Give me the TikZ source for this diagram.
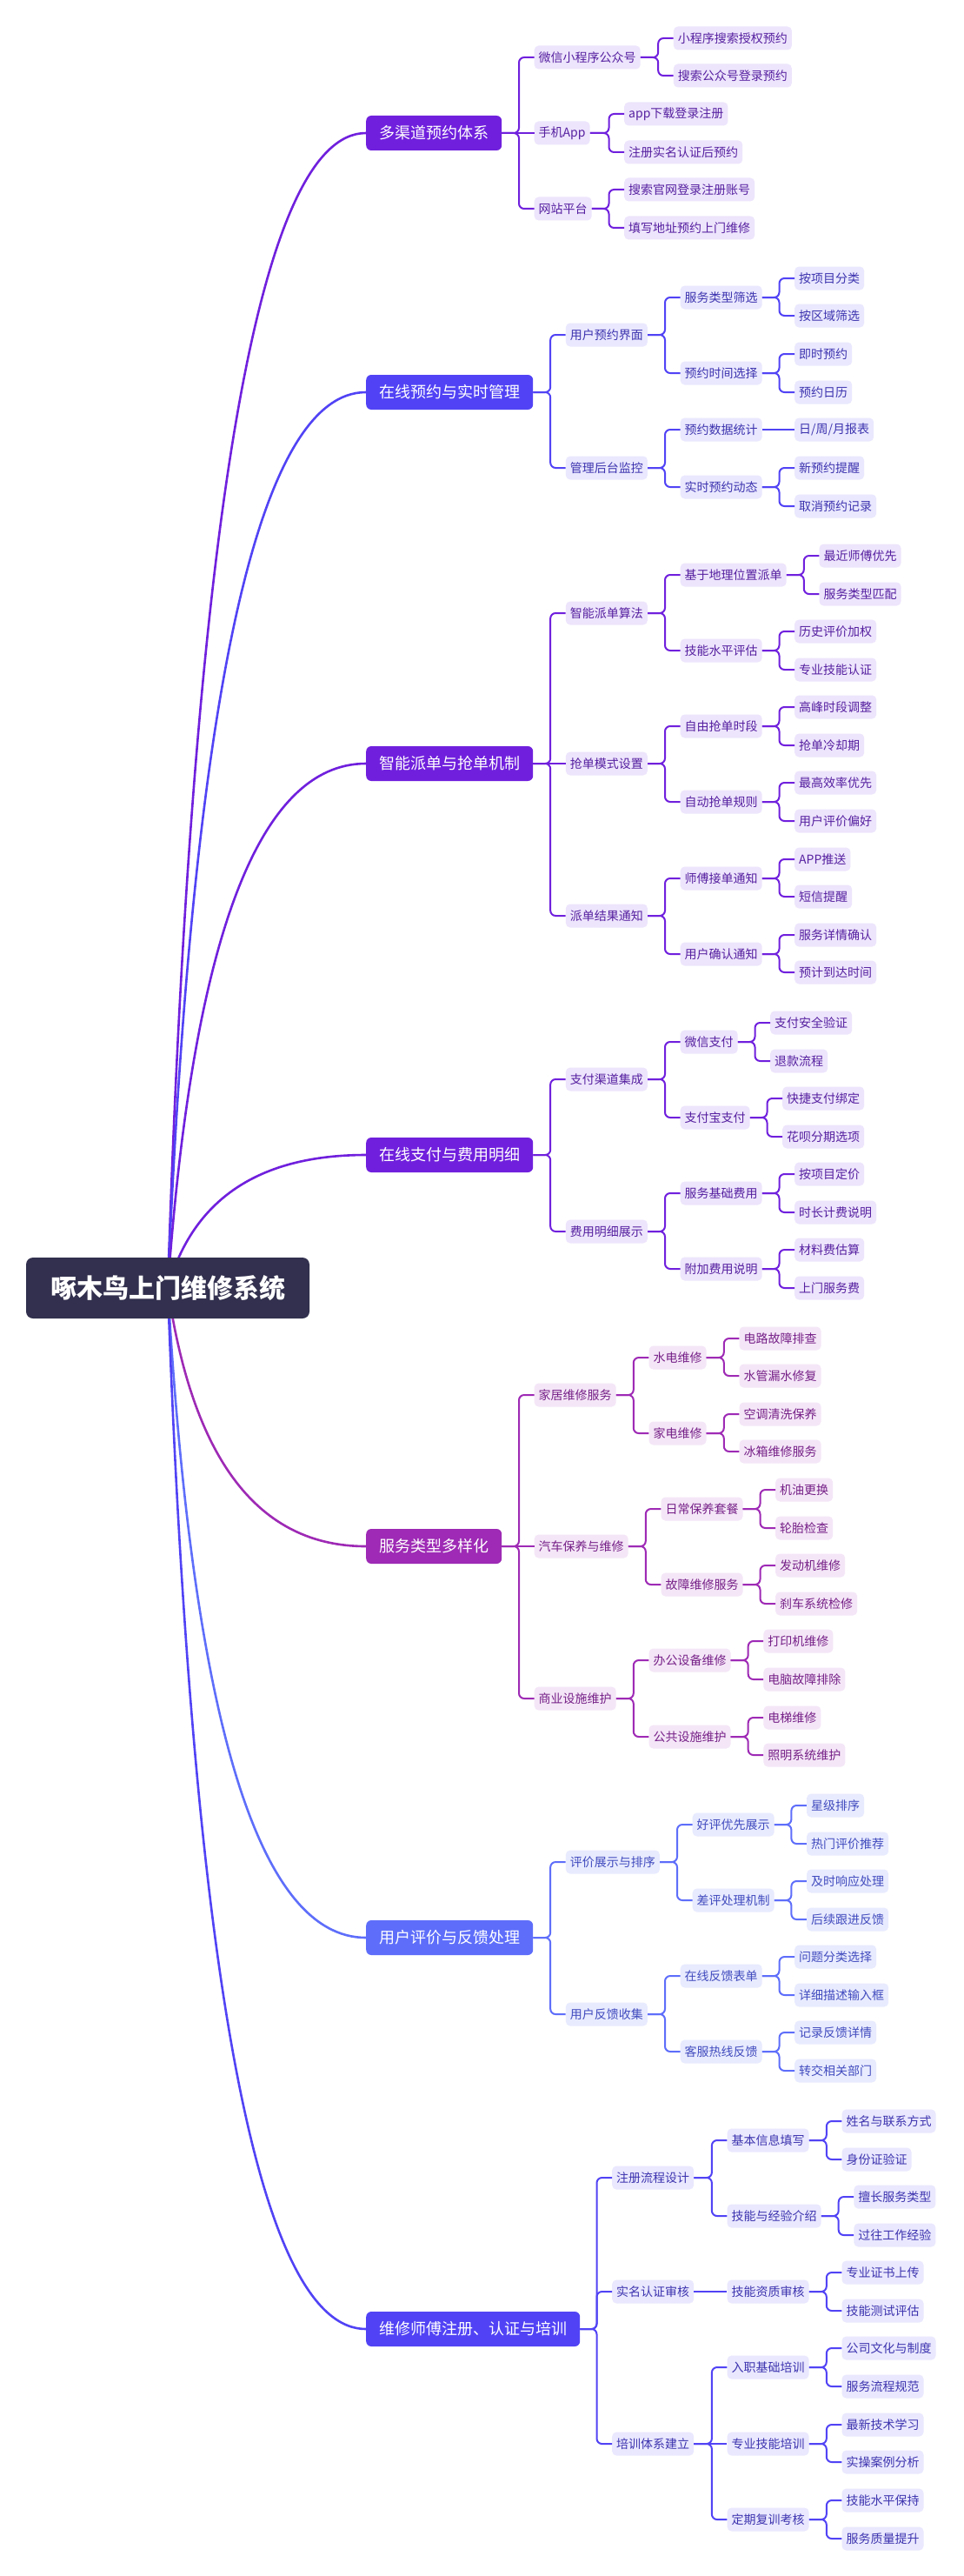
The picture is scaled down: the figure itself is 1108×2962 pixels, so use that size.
\documentclass[tikz,border=0pt]{standalone}
\usepackage{fontspec}
\setmainfont{Noto Sans CJK SC}
\usetikzlibrary{calc,backgrounds}

\definecolor{cRoot}{RGB}{50,48,78}
\definecolor{cViolet}{RGB}{112,32,221}
\definecolor{cVioletL}{RGB}{237,229,252}
\definecolor{cVioletD}{RGB}{86,32,160}
\definecolor{cIndigo}{RGB}{81,67,245}
\definecolor{cIndigoL}{RGB}{233,232,254}
\definecolor{cIndigoD}{RGB}{62,52,175}
\definecolor{cOrchid}{RGB}{158,42,181}
\definecolor{cOrchidL}{RGB}{244,230,247}
\definecolor{cOrchidD}{RGB}{118,32,135}
\definecolor{cSky}{RGB}{94,110,250}
\definecolor{cSkyL}{RGB}{232,235,254}
\definecolor{cSkyD}{RGB}{66,76,190}

\begin{document}
\begin{tikzpicture}[x=1pt, y=-1pt,
  rootbox/.style={rounded corners=8pt, fill=cRoot, text=white, minimum width=326pt, minimum height=70pt,
                  inner sep=0pt, font=\bfseries\fontsize{30}{36}\selectfont},
  hub/.style={anchor=west, rounded corners=6pt, text=white, minimum height=40pt, inner xsep=15pt, inner ysep=0pt,
              font=\fontsize{18}{22}\selectfont},
  leaf/.style={anchor=west, rounded corners=5pt, minimum height=27pt, inner xsep=5pt, inner ysep=0pt,
               font=\fontsize{14}{16}\selectfont},
  link/.style={line width=2pt, rounded corners=6pt},
  tint/.style={hub/.append style={fill=#1}, leaf/.append style={fill=#1L, text=#1D}, link/.append style={draw=#1}}]

\useasboundingbox (0,0) rectangle (1108,2962);

% root
\node[rootbox] (root) at (193,1481) {啄木鸟上门维修系统};

% branch 1: channels
\begin{scope}[tint=cViolet]
\node[hub] (b1) at (421,153) {多渠道预约体系};
\node[leaf] (b1a) at (614.5,66) {微信小程序公众号};
\node[leaf] (b1a1) at (774.7,44) {小程序搜索授权预约};
\node[leaf] (b1a2) at (774.7,87) {搜索公众号登录预约};
\node[leaf] (b1b) at (614.5,153) {手机App};
\node[leaf] (b1b1) at (718,131) {app下载登录注册};
\node[leaf] (b1b2) at (718,175) {注册实名认证后预约};
\node[leaf] (b1c) at (614.5,240) {网站平台};
\node[leaf] (b1c1) at (718,218) {搜索官网登录注册账号};
\node[leaf] (b1c2) at (718,262) {填写地址预约上门维修};
\foreach \p/\c in {b1/b1a, b1/b1c, b1a/b1a1, b1a/b1a2, b1b/b1b1, b1b/b1b2, b1c/b1c1, b1c/b1c2}
  \draw[link] (\p.east) -| ($(\c.west)+(-17.5,0)$) -- (\c.west);
\draw[link] (b1) -- (b1b);
\end{scope}

% branch 2: booking
\begin{scope}[tint=cIndigo]
\node[hub] (b2) at (421,451) {在线预约与实时管理};
\node[leaf] (b2a) at (650.7,385) {用户预约界面};
\node[leaf] (b2a1) at (782.5,342) {服务类型筛选};
\node[leaf] (b2a11) at (914,320) {按项目分类};
\node[leaf] (b2a12) at (914,363) {按区域筛选};
\node[leaf] (b2a2) at (782.5,429) {预约时间选择};
\node[leaf] (b2a21) at (914,407) {即时预约};
\node[leaf] (b2a22) at (914,451) {预约日历};
\node[leaf] (b2b) at (650.7,538) {管理后台监控};
\node[leaf] (b2b1) at (782.5,494) {预约数据统计};
\node[leaf] (b2b11) at (914,494) {日/周/月报表};
\node[leaf] (b2b2) at (782.5,560) {实时预约动态};
\node[leaf] (b2b21) at (914,538) {新预约提醒};
\node[leaf] (b2b22) at (914,582) {取消预约记录};
\foreach \p/\c in {b2/b2a, b2/b2b, b2a/b2a1, b2a/b2a2, b2a1/b2a11, b2a1/b2a12, b2a2/b2a21, b2a2/b2a22,
                   b2b/b2b1, b2b/b2b2, b2b2/b2b21, b2b2/b2b22}
  \draw[link] (\p.east) -| ($(\c.west)+(-17.5,0)$) -- (\c.west);
\draw[link] (b2b1) -- (b2b11);
\end{scope}

% branch 3: dispatch
\begin{scope}[tint=cViolet]
\node[hub] (b3) at (421,878) {智能派单与抢单机制};
\node[leaf] (b3a) at (650.7,705) {智能派单算法};
\node[leaf] (b3a1) at (782.5,661) {基于地理位置派单};
\node[leaf] (b3a11) at (942.3,639) {最近师傅优先};
\node[leaf] (b3a12) at (942.3,683) {服务类型匹配};
\node[leaf] (b3a2) at (782.5,748) {技能水平评估};
\node[leaf] (b3a21) at (914,726) {历史评价加权};
\node[leaf] (b3a22) at (914,770) {专业技能认证};
\node[leaf] (b3b) at (650.7,878) {抢单模式设置};
\node[leaf] (b3b1) at (782.5,835) {自由抢单时段};
\node[leaf] (b3b11) at (914,813) {高峰时段调整};
\node[leaf] (b3b12) at (914,857) {抢单冷却期};
\node[leaf] (b3b2) at (782.5,922) {自动抢单规则};
\node[leaf] (b3b21) at (914,900) {最高效率优先};
\node[leaf] (b3b22) at (914,944) {用户评价偏好};
\node[leaf] (b3c) at (650.7,1053) {派单结果通知};
\node[leaf] (b3c1) at (782.5,1010) {师傅接单通知};
\node[leaf] (b3c11) at (914,988) {APP推送};
\node[leaf] (b3c12) at (914,1031) {短信提醒};
\node[leaf] (b3c2) at (782.5,1097) {用户确认通知};
\node[leaf] (b3c21) at (914,1075) {服务详情确认};
\node[leaf] (b3c22) at (914,1118) {预计到达时间};
\foreach \p/\c in {b3/b3a, b3/b3c, b3a/b3a1, b3a/b3a2, b3b/b3b1, b3b/b3b2, b3c/b3c1, b3c/b3c2,
                   b3a1/b3a11, b3a1/b3a12, b3a2/b3a21, b3a2/b3a22, b3b1/b3b11, b3b1/b3b12,
                   b3b2/b3b21, b3b2/b3b22, b3c1/b3c11, b3c1/b3c12, b3c2/b3c21, b3c2/b3c22}
  \draw[link] (\p.east) -| ($(\c.west)+(-17.5,0)$) -- (\c.west);
\draw[link] (b3) -- (b3b);
\end{scope}

% branch 4: payment
\begin{scope}[tint=cViolet]
\node[hub] (b4) at (421,1328) {在线支付与费用明细};
\node[leaf] (b4a) at (650.7,1241) {支付渠道集成};
\node[leaf] (b4a1) at (782.5,1198) {微信支付};
\node[leaf] (b4a11) at (886,1176) {支付安全验证};
\node[leaf] (b4a12) at (886,1220) {退款流程};
\node[leaf] (b4a2) at (782.5,1285) {支付宝支付};
\node[leaf] (b4a21) at (900,1263) {快捷支付绑定};
\node[leaf] (b4a22) at (900,1307) {花呗分期选项};
\node[leaf] (b4b) at (650.7,1416) {费用明细展示};
\node[leaf] (b4b1) at (782.5,1372) {服务基础费用};
\node[leaf] (b4b11) at (914,1350) {按项目定价};
\node[leaf] (b4b12) at (914,1394) {时长计费说明};
\node[leaf] (b4b2) at (782.5,1459) {附加费用说明};
\node[leaf] (b4b21) at (914,1437) {材料费估算};
\node[leaf] (b4b22) at (914,1481) {上门服务费};
\foreach \p/\c in {b4/b4a, b4/b4b, b4a/b4a1, b4a/b4a2, b4b/b4b1, b4b/b4b2,
                   b4a1/b4a11, b4a1/b4a12, b4a2/b4a21, b4a2/b4a22, b4b1/b4b11, b4b1/b4b12, b4b2/b4b21, b4b2/b4b22}
  \draw[link] (\p.east) -| ($(\c.west)+(-17.5,0)$) -- (\c.west);
\end{scope}

% branch 5: service types
\begin{scope}[tint=cOrchid]
\node[hub] (b5) at (421,1778) {服务类型多样化};
\node[leaf] (b5a) at (614.5,1604) {家居维修服务};
\node[leaf] (b5a1) at (746.3,1561) {水电维修};
\node[leaf] (b5a11) at (850.3,1539) {电路故障排查};
\node[leaf] (b5a12) at (850.3,1582) {水管漏水修复};
\node[leaf] (b5a2) at (746.3,1648) {家电维修};
\node[leaf] (b5a21) at (850.3,1626) {空调清洗保养};
\node[leaf] (b5a22) at (850.3,1669) {冰箱维修服务};
\node[leaf] (b5b) at (614.5,1778) {汽车保养与维修};
\node[leaf] (b5b1) at (760.3,1735) {日常保养套餐};
\node[leaf] (b5b11) at (892,1713) {机油更换};
\node[leaf] (b5b12) at (892,1757) {轮胎检查};
\node[leaf] (b5b2) at (760.3,1822) {故障维修服务};
\node[leaf] (b5b21) at (892,1800) {发动机维修};
\node[leaf] (b5b22) at (892,1844) {刹车系统检修};
\node[leaf] (b5c) at (614.5,1953) {商业设施维护};
\node[leaf] (b5c1) at (746.3,1909) {办公设备维修};
\node[leaf] (b5c11) at (878.2,1887) {打印机维修};
\node[leaf] (b5c12) at (878.2,1931) {电脑故障排除};
\node[leaf] (b5c2) at (746.3,1997) {公共设施维护};
\node[leaf] (b5c21) at (878.2,1975) {电梯维修};
\node[leaf] (b5c22) at (878.2,2018) {照明系统维护};
\foreach \p/\c in {b5/b5a, b5/b5c, b5a/b5a1, b5a/b5a2, b5b/b5b1, b5b/b5b2, b5c/b5c1, b5c/b5c2,
                   b5a1/b5a11, b5a1/b5a12, b5a2/b5a21, b5a2/b5a22, b5b1/b5b11, b5b1/b5b12,
                   b5b2/b5b21, b5b2/b5b22, b5c1/b5c11, b5c1/b5c12, b5c2/b5c21, b5c2/b5c22}
  \draw[link] (\p.east) -| ($(\c.west)+(-17.5,0)$) -- (\c.west);
\draw[link] (b5) -- (b5b);
\end{scope}

% branch 6: reviews
\begin{scope}[tint=cSky]
\node[hub] (b6) at (421,2228) {用户评价与反馈处理};
\node[leaf] (b6a) at (650.7,2141) {评价展示与排序};
\node[leaf] (b6a1) at (796.5,2098) {好评优先展示};
\node[leaf] (b6a11) at (927.9,2076) {星级排序};
\node[leaf] (b6a12) at (927.9,2120) {热门评价推荐};
\node[leaf] (b6a2) at (796.5,2185) {差评处理机制};
\node[leaf] (b6a21) at (927.9,2163) {及时响应处理};
\node[leaf] (b6a22) at (927.9,2207) {后续跟进反馈};
\node[leaf] (b6b) at (650.7,2316) {用户反馈收集};
\node[leaf] (b6b1) at (782.5,2272) {在线反馈表单};
\node[leaf] (b6b11) at (914,2250) {问题分类选择};
\node[leaf] (b6b12) at (914,2294) {详细描述输入框};
\node[leaf] (b6b2) at (782.5,2359) {客服热线反馈};
\node[leaf] (b6b21) at (914,2337) {记录反馈详情};
\node[leaf] (b6b22) at (914,2381) {转交相关部门};
\foreach \p/\c in {b6/b6a, b6/b6b, b6a/b6a1, b6a/b6a2, b6b/b6b1, b6b/b6b2,
                   b6a1/b6a11, b6a1/b6a12, b6a2/b6a21, b6a2/b6a22, b6b1/b6b11, b6b1/b6b12, b6b2/b6b21, b6b2/b6b22}
  \draw[link] (\p.east) -| ($(\c.west)+(-17.5,0)$) -- (\c.west);
\end{scope}

% branch 7: technicians
\begin{scope}[tint=cIndigo]
\node[hub] (b7) at (421,2678) {维修师傅注册、认证与培训};
\node[leaf] (b7a) at (704,2504) {注册流程设计};
\node[leaf] (b7a1) at (836.4,2461) {基本信息填写};
\node[leaf] (b7a11) at (968.3,2439) {姓名与联系方式};
\node[leaf] (b7a12) at (968.3,2483) {身份证验证};
\node[leaf] (b7a2) at (836.4,2548) {技能与经验介绍};
\node[leaf] (b7a21) at (982.2,2526) {擅长服务类型};
\node[leaf] (b7a22) at (982.2,2570) {过往工作经验};
\node[leaf] (b7b) at (704,2635) {实名认证审核};
\node[leaf] (b7b1) at (836.4,2635) {技能资质审核};
\node[leaf] (b7b11) at (968.3,2613) {专业证书上传};
\node[leaf] (b7b12) at (968.3,2657) {技能测试评估};
\node[leaf] (b7c) at (704,2810) {培训体系建立};
\node[leaf] (b7c1) at (836.4,2722) {入职基础培训};
\node[leaf] (b7c11) at (968.3,2700) {公司文化与制度};
\node[leaf] (b7c12) at (968.3,2744) {服务流程规范};
\node[leaf] (b7c2) at (836.4,2810) {专业技能培训};
\node[leaf] (b7c21) at (968.3,2788) {最新技术学习};
\node[leaf] (b7c22) at (968.3,2831) {实操案例分析};
\node[leaf] (b7c3) at (836.4,2897) {定期复训考核};
\node[leaf] (b7c31) at (968.3,2875) {技能水平保持};
\node[leaf] (b7c32) at (968.3,2919) {服务质量提升};
\foreach \p/\c in {b7/b7a, b7/b7b, b7/b7c, b7a/b7a1, b7a/b7a2, b7c/b7c1, b7c/b7c3,
                   b7a1/b7a11, b7a1/b7a12, b7a2/b7a21, b7a2/b7a22, b7b1/b7b11, b7b1/b7b12,
                   b7c1/b7c11, b7c1/b7c12, b7c2/b7c21, b7c2/b7c22, b7c3/b7c31, b7c3/b7c32}
  \draw[link] (\p.east) -| ($(\c.west)+(-17.5,0)$) -- (\c.west);
\draw[link] (b7b) -- (b7b1);
\draw[link] (b7c) -- (b7c2);
\end{scope}

% curves from the root, behind the boxes
\begin{scope}[on background layer]
\fill[white] (0,0) rectangle (1108,2962);
\coordinate (qx) at (236,0);
\foreach \b/\c in {b1/cViolet, b2/cIndigo, b3/cViolet, b4/cViolet, b5/cOrchid, b6/cSky, b7/cIndigo} {
  \coordinate (q) at (qx |- \b.west);
  \draw[\c, line width=2.6pt] (root.center) .. controls ($(root.center)!0.667!(q)$) and ($(\b.west)!0.667!(q)$) .. (\b.west);
}
\end{scope}
\end{tikzpicture}
\end{document}
